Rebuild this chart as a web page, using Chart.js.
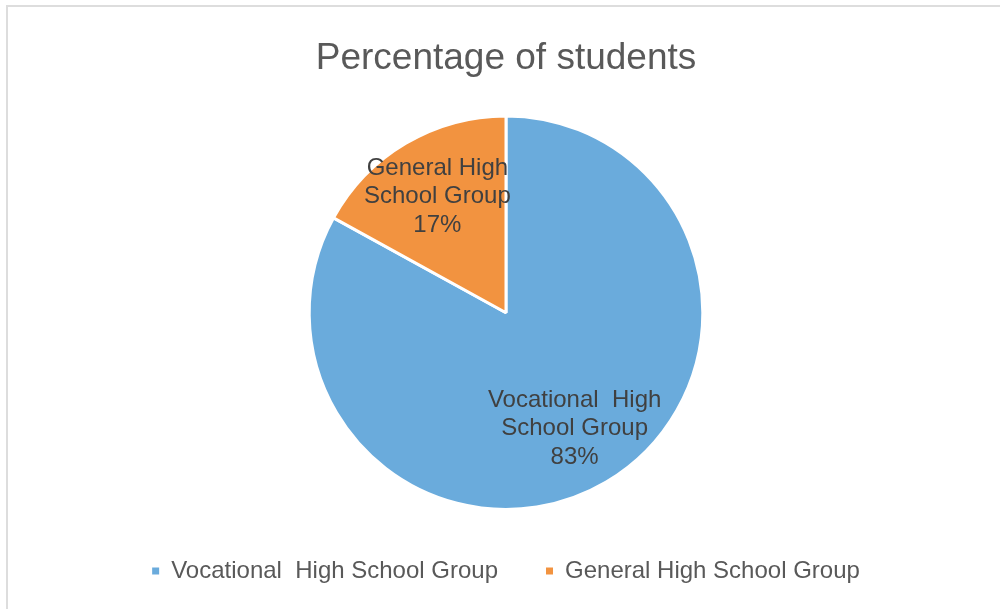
<!DOCTYPE html>
<html>
<head>
<meta charset="utf-8">
<title>Percentage of students</title>
<script src="https://cdn.jsdelivr.net/npm/chart.js@4/dist/chart.umd.min.js"></script>
<style>
    body { margin: 0; background: #ffffff; }
    #marco { position: relative; width: 1000px; height: 609px; overflow: hidden; }
    #marco::before {
        content: ''; position: absolute; left: 6px; top: 5px; right: -10px; bottom: -10px;
        border-top: 2px solid #dddddd; border-left: 2px solid #dddddd;
    }
    #grafico { position: absolute; left: 0; top: 0; }
</style>
</head>
<body>
<div id="marco">
    <canvas id="grafico" width="1000" height="609"></canvas>
</div>
<script>
// Datos del gráfico
const categorias = ['Vocational  High School Group', 'General High School Group'];
const porcentajes = [83, 17];
const etiquetasSector = [
    ['Vocational  High', 'School Group'],
    ['General High', 'School Group']
];
const colores = ['#6AABDC', '#F29340'];

const fuente = '"Liberation Sans", Arial, Helvetica, sans-serif';

// Etiquetas dentro de cada sector (nombre + porcentaje)
const etiquetasPlugin = {
    id: 'etiquetasSector',
    afterDatasetsDraw(chart) {
        const ctx = chart.ctx;
        const meta = chart.getDatasetMeta(0);
        ctx.save();
        ctx.font = '24px ' + fuente;
        ctx.fillStyle = '#404040';
        ctx.textAlign = 'center';
        ctx.textBaseline = 'middle';
        meta.data.forEach((arco, i) => {
            const p = arco.getProps(['x', 'y', 'startAngle', 'endAngle', 'outerRadius'], true);
            const medio = (p.startAngle + p.endAngle) / 2;
            const r = p.outerRadius * 0.685;
            const cx = p.x + Math.cos(medio) * r;
            const cy = p.y + Math.sin(medio) * r;
            const lineas = [...etiquetasSector[i], porcentajes[i] + '%'];
            const alto = 28.5;
            lineas.forEach((txt, j) => {
                ctx.fillText(txt, cx, cy + (j - (lineas.length - 1) / 2) * alto);
            });
        });
        ctx.restore();
    }
};

new Chart(document.getElementById('grafico'), {
    type: 'pie',
    data: {
        labels: categorias,
        datasets: [{
            data: porcentajes,
            backgroundColor: colores,
            borderColor: '#ffffff',
            borderWidth: 3
        }]
    },
    options: {
        responsive: false,
        animation: false,
        layout: { padding: { left: 12, right: 0, top: 0, bottom: 16 } },
        plugins: {
            title: {
                display: true,
                text: 'Percentage of students',
                color: '#595959',
                font: { family: fuente, size: 37, weight: 'normal' },
                padding: { top: 37, bottom: 33 }
            },
            legend: {
                position: 'bottom',
                labels: {
                    color: '#595959',
                    font: { family: fuente, size: 24 },
                    boxWidth: 7,
                    boxHeight: 7,
                    padding: 48,
                    // cuadros sólidos, sin el borde blanco de los sectores
                    generateLabels(chart) {
                        const items = Chart.controllers.pie.overrides.plugins.legend.labels.generateLabels(chart);
                        items.forEach(it => { it.lineWidth = 0; it.strokeStyle = it.fillStyle; });
                        return items;
                    }
                }
            },
            tooltip: { enabled: false }
        }
    },
    plugins: [etiquetasPlugin]
});
</script>
</body>
</html>
